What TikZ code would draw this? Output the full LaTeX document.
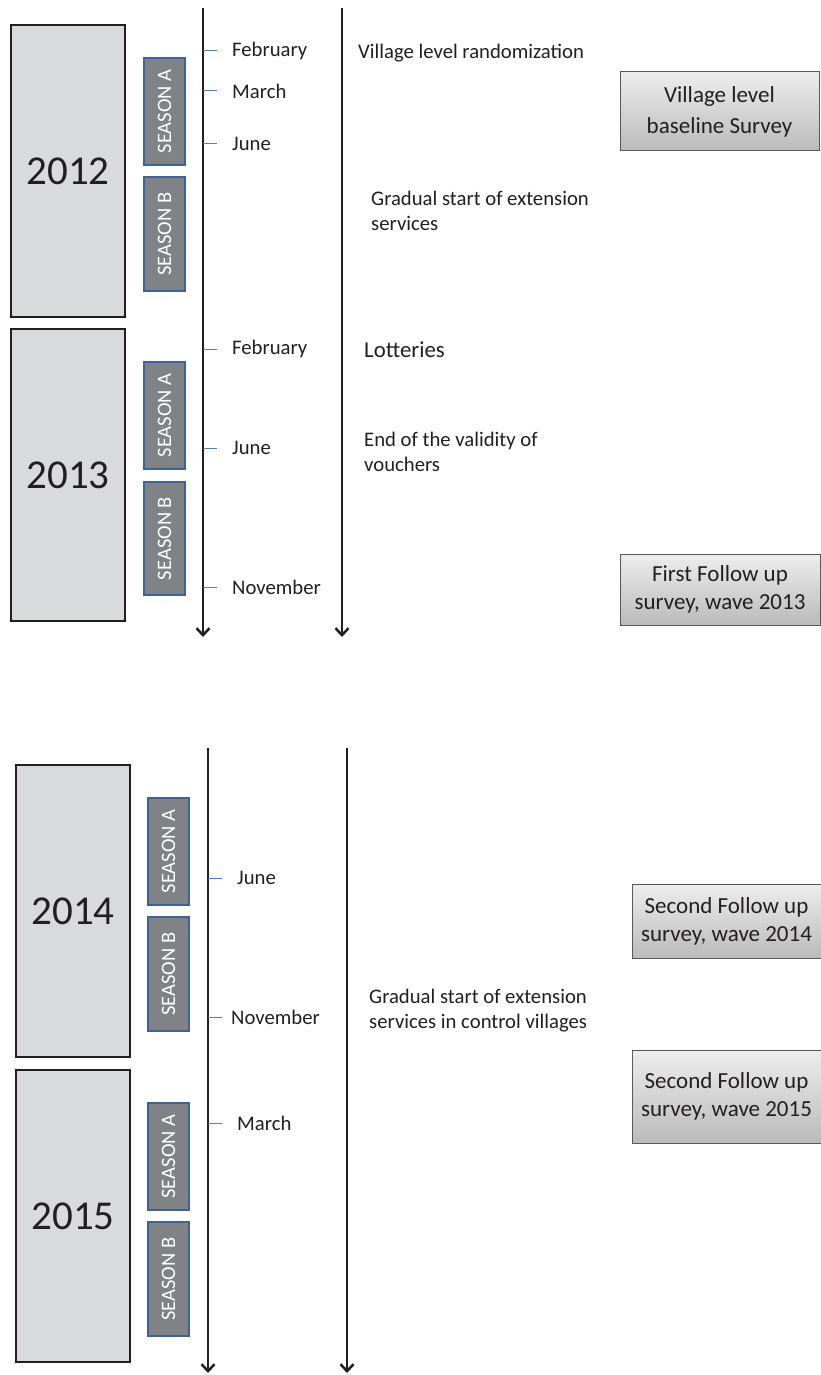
\documentclass[tikz,border=0pt]{standalone}
\usepackage{fontspec}
\setmainfont{Carlito}
\usetikzlibrary{positioning}
\usetikzlibrary{arrows.meta}
\definecolor{inkgray}{HTML}{231F20}
\definecolor{yearfill}{HTML}{D9DADB}
\definecolor{seasonfill}{HTML}{808285}
\definecolor{seasonline}{HTML}{3E6396}
\definecolor{tickblue}{HTML}{4F81BD}
\tikzset{
	year/.style={draw=inkgray, line width=2pt, fill=yearfill, text=inkgray, minimum width=114pt, minimum height=292pt, inner sep=0pt, font=\fontsize{41}{49}\selectfont},
	season/.style={draw=seasonline, line width=2pt, fill=seasonfill, text=white, rotate=90, minimum width=107pt, minimum height=41pt, inner sep=0pt, font=\fontsize{20.5}{24}\selectfont},
	month/.style={inner sep=0pt, text=inkgray, font=\fontsize{20.7}{25}\selectfont},
	event/.style={inner sep=0pt, anchor=west, align=left, text=inkgray, font=\fontsize{20.7}{25}\selectfont},
	survey/.style={draw=black!65, line width=1pt, top color=black!7, bottom color=black!27, text=inkgray, align=center, inner sep=0pt, font=\fontsize{23}{28}\selectfont},
	tick/.style={draw=tickblue, line width=1pt},
	axis/.style={draw=inkgray, line width=2.5pt, -{Straight Barb[length=7pt,width=13pt]}}
}
\begin{document}
\begin{tikzpicture}[x=1pt,y=-1pt]
			\useasboundingbox (0,0) rectangle (821,1375);
			\node [year] (y2012) at (68,171) {2012};
			\node [year] (y2013) at (68,475) {2013};
			\node [season, minimum width=107pt] (sa2012) at (164.5,111.5) {SEASON A};
			\node [season, minimum width=114pt] (sb2012) at (164.5,234) {SEASON B};
			\node [season, minimum width=107pt] (sa2013) at (164.5,415.5) {SEASON A};
			\node [season, minimum width=113pt] (sb2013) at (164.5,538.5) {SEASON B};

			\coordinate (timeA) at (203,8);
			\coordinate (timeAend) at (203,637);
			\coordinate (eventA) at (342,8);
			\coordinate (eventAend) at (342,637);
			\draw [axis] (timeA) -- (timeAend);
			\draw [axis] (eventA) -- (eventAend);

			\draw [tick] (203,51) -- ++(14,0) coordinate (tfeb12);
			\draw [tick] (203,91) -- ++(14,0) coordinate (tmar12);
			\draw [tick] (203,144) -- ++(14,0) coordinate (tjun12);
			\draw [tick] (203,349) -- ++(14,0) coordinate (tfeb13);
			\draw [tick] (203,448) -- ++(14,0) coordinate (tjun13);
			\draw [tick] (203,587) -- ++(14,0) coordinate (tnov13);
			\node [month, right=15pt of tfeb12] (feb12) {February};
			\node [month, right=15pt of tmar12] (mar12) {March};
			\node [month, right=15pt of tjun12] (jun12) {June};
			\node [month, right=15pt of tfeb13] (feb13) {February};
			\node [month, right=15pt of tjun13] (jun13) {June};
			\node [month, right=15pt of tnov13] (nov13) {November};

			\node [event] (random) at (358,53) {Village level randomization};
			\node [event] (extension) at (371,210.5) {Gradual start of extension\\services};
			\node [event, font=\fontsize{22.8}{27}\selectfont] (lottery) at (364,350) {Lotteries};
			\node [event] (vouchers) at (364,452) {End of the validity of\\vouchers};

			\node [survey, minimum width=199pt, minimum height=79pt, font=\fontsize{23}{31}\selectfont] (baseline) at (719.5,111.5) {Village level\\baseline Survey};
			\node [survey, minimum width=200pt, minimum height=71pt] (follow13) at (720,589.5) {First Follow up\\survey, wave 2013};

			\node [year] (y2014) at (73,911) {2014};
			\node [year] (y2015) at (73,1216) {2015};
			\node [season, minimum width=107pt] (sa2014) at (168.5,851.5) {SEASON A};
			\node [season, minimum width=114pt] (sb2014) at (168.5,974) {SEASON B};
			\node [season, minimum width=107pt] (sa2015) at (168.5,1156.5) {SEASON A};
			\node [season, minimum width=114pt] (sb2015) at (168.5,1279) {SEASON B};

			\coordinate (timeB) at (208,748);
			\coordinate (timeBend) at (208,1373);
			\coordinate (eventB) at (347,748);
			\coordinate (eventBend) at (347,1373);
			\draw [axis] (timeB) -- (timeBend);
			\draw [axis] (eventB) -- (eventBend);

			\draw [tick] (208,878) -- ++(14,0) coordinate (tjun14);
			\draw [tick] (208,1017) -- ++(14,0) coordinate (tnov14);
			\draw [tick] (208,1123) -- ++(14,0) coordinate (tmar15);
			\node [month, right=15pt of tjun14] (jun14) {June};
			\node [month, right=9pt of tnov14] (nov14) {November};
			\node [month, right=15pt of tmar15] (mar15) {March};

			\node [event] (control) at (369,1010.5) {Gradual start of extension\\services in control villages};

			\node [survey, minimum width=189pt, minimum height=74pt] (follow14) at (726.5,921) {Second Follow up\\survey, wave 2014};
			\node [survey, minimum width=189pt, minimum height=93pt] (follow15) at (726.5,1096.5) {Second Follow up\\survey, wave 2015};
		\end{tikzpicture}
\end{document}
